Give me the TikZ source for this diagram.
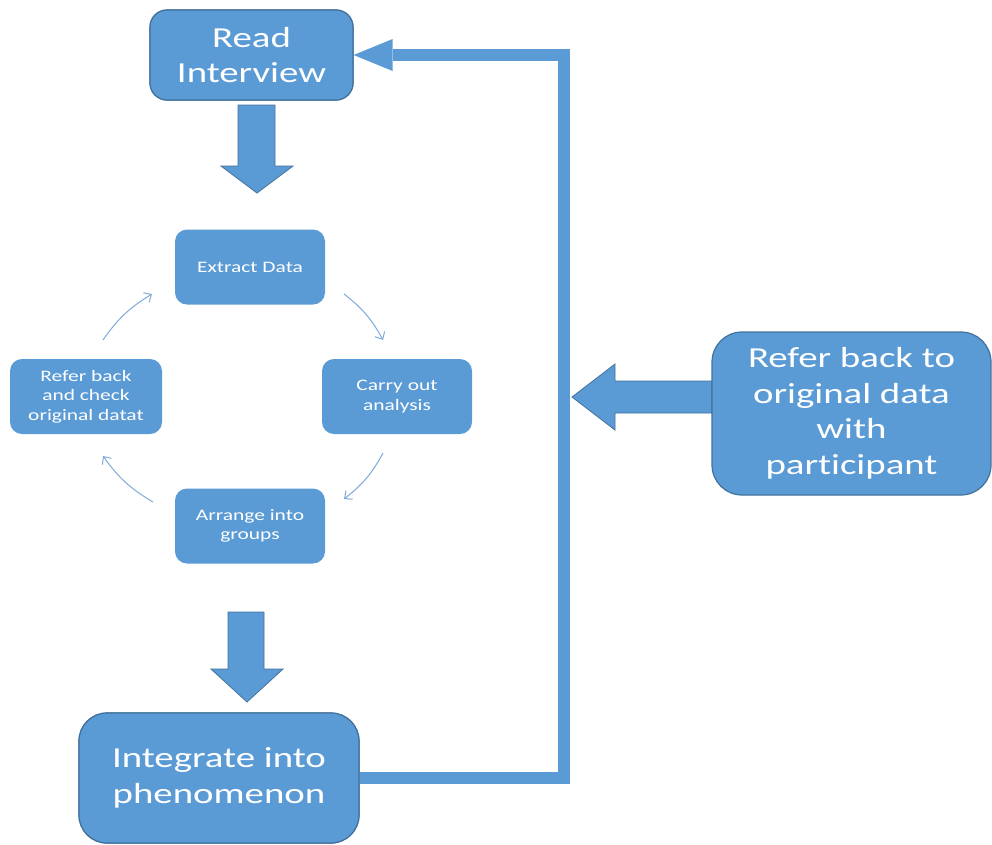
\documentclass[tikz,border=0pt]{standalone}
\usepackage{fontspec}
\setmainfont[FakeStretch=1.34,Ligatures=NoCommon]{Carlito}
\usetikzlibrary{arrows.meta,bending}
\definecolor{boxfill}{RGB}{91,155,213}
\definecolor{boxedge}{RGB}{65,113,156}
\definecolor{cycline}{RGB}{125,170,218}
\begin{document}
\begin{tikzpicture}[x=1pt,y=-1pt,
  bigbox/.style={draw=boxedge,line width=1.2pt,fill=boxfill,text=white,align=center,
    inner sep=0pt,font=\fontsize{29}{35.5}\selectfont},
  smallbox/.style={fill=boxfill,text=white,align=center,inner sep=0pt,
    minimum width=150pt,minimum height=75pt,rounded corners=12pt,
    font=\fontsize{16}{19.5}\selectfont},
  blockarrow/.style={draw=boxedge,line width=0.8pt,fill=boxfill,line join=miter},
  fb/.style={draw=boxfill,line width=12pt,line join=miter,
    -{Triangle[length=39pt,width=32pt,line width=0pt]}},
  cyc/.style={draw=cycline,line width=1pt,-{Straight Barb[length=6pt,width=11pt]}}]
\useasboundingbox (0,0) rectangle (992,844);

% block arrows
\path[blockarrow] (238,105) -- (275,105) -- (275,166) -- (293,166) -- (257,193) -- (221,166) -- (238,166) -- cycle;
\path[blockarrow] (228,612) -- (264,612) -- (264,669) -- (283,669) -- (247,702) -- (211,669) -- (228,669) -- cycle;
\path[blockarrow] (712,381) -- (615,381) -- (615,364) -- (572,397) -- (615,430) -- (615,413) -- (712,413) -- cycle;

% feedback connector
\coordinate (fbc) at (564,55);
\node[bigbox,minimum width=203pt,minimum height=90pt,rounded corners=17pt] (ri) at (251.5,55) {Read\\Interview};
\node[bigbox,minimum width=280pt,minimum height=130pt,rounded corners=28pt] (int) at (219,778) {Integrate into\\phenomenon};
\draw[fb] (int.east) -| (fbc) -- (ri.east);
\node[bigbox,minimum width=203pt,minimum height=90pt,rounded corners=17pt] at (ri) {Read\\Interview};
\node[bigbox,minimum width=280pt,minimum height=130pt,rounded corners=28pt] at (int) {Integrate into\\phenomenon};

\node[bigbox,minimum width=279pt,minimum height=163pt,rounded corners=30pt] (rp) at (851.5,413.5) {Refer back to\\original data\\with\\participant};

% cycle
\node[smallbox] (ex) at (250,267) {Extract Data};
\node[smallbox] (ca) at (397,396.5) {Carry out\\analysis};
\node[smallbox] (ar) at (250,526) {Arrange into\\groups};
\node[smallbox,minimum width=152pt] (rb) at (86,396.5) {Refer back\\and check\\original datat};

\coordinate (a1s) at (344,294); \coordinate (a1e) at (383,340);
\coordinate (a2s) at (383,453); \coordinate (a2e) at (344,499);
\coordinate (a3s) at (153,502); \coordinate (a3e) at (103,456);
\coordinate (a4s) at (103,340); \coordinate (a4e) at (152,294);
\draw[cyc] (a1s) to[bend left=12] (a1e);
\draw[cyc] (a2s) to[bend left=12] (a2e);
\draw[cyc] (a3s) to[bend left=12] (a3e);
\draw[cyc] (a4s) to[bend left=12] (a4e);
\end{tikzpicture}
\end{document}
